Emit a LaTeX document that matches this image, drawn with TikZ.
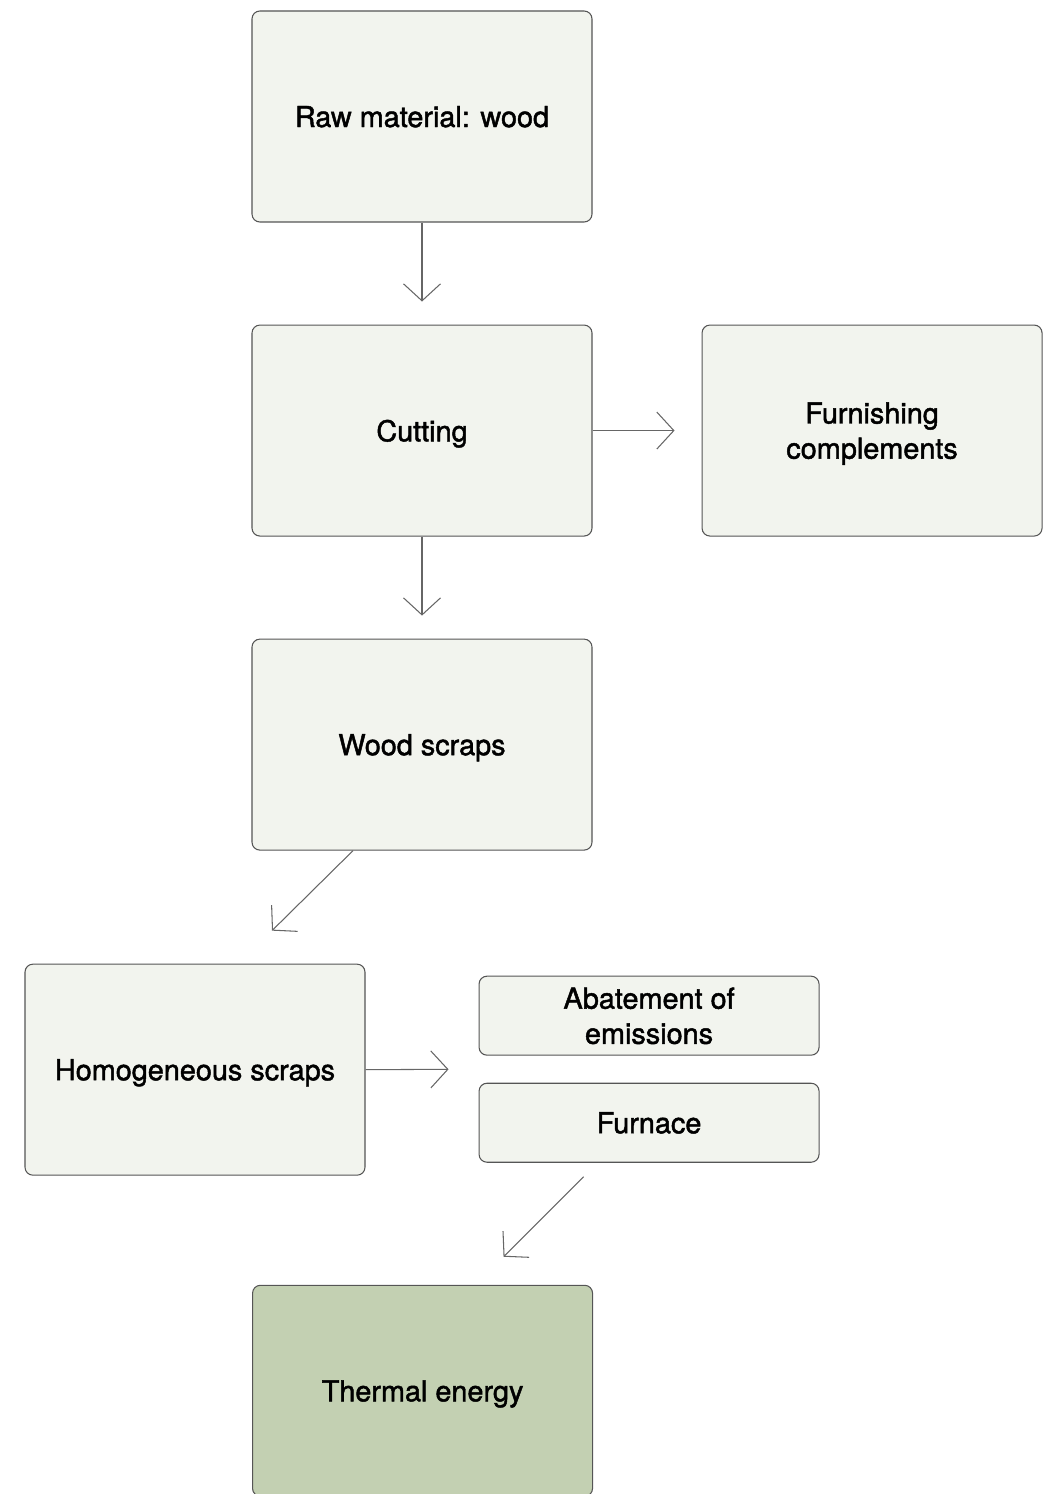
\documentclass[tikz,border=0pt]{standalone}
\usepackage{fontspec}
\setmainfont{TeX Gyre Heros}[FakeBold=1.6]
\usetikzlibrary{positioning,arrows.meta,calc}
\definecolor{boxfill}{HTML}{F2F4EE}
\definecolor{heatfill}{HTML}{C3D0B2}
\definecolor{edge}{HTML}{555555}

\begin{document}
\begin{tikzpicture}[
  box/.style={draw=edge,line width=0.6pt,rounded corners=4.5pt,align=center,fill=boxfill,
    font=\fontsize{16.4}{20}\selectfont,text=black,text depth=0pt,
    minimum width=6.8cm,minimum height=4.22cm,inner sep=6pt},
  slim/.style={box,minimum height=1.58cm},
  flow/.style={-{Straight Barb[length=3.4mm,width=7.4mm]},draw=black!60,line width=0.6pt},
  node distance=2.04cm]
\useasboundingbox (0,0) rectangle (20.98,-29.88);
\node[box] (raw) at (8.44,-2.33) {Raw material: wood};
\node[box,below=of raw] (cut) {Cutting};
\node[box,right=2.18cm of cut] (furnish) {Furnishing\\complements};
\node[box,below=of cut] (wood) {Wood scraps};
\node[box,below=2.26cm of wood,xshift=-4.54cm] (homog) {Homogeneous scraps};
\node[slim,right=2.26cm of homog,yshift=1.08cm] (abate) {Abatement of\\emissions};
\node[slim,below=0.54cm of abate] (furnace) {Furnace};
\node[box,below=2.44cm of furnace,xshift=-4.53cm,fill=heatfill] (heat) {Thermal energy};
% free ends of the slanted arrows
\coordinate (woodout) at ($(wood.south)+(-1.38,0)$);
\coordinate (homogin) at ($(homog.north)+(1.54,0.66)$);
\coordinate (furnout) at ($(furnace.south)+(-1.31,-0.28)$);
\coordinate (heatin) at ($(heat.north)+(1.62,0.56)$);
\draw[flow,shorten >=0.46cm] (raw)--(cut);
\draw[flow,shorten >=0.46cm] (cut)--(wood);
\draw[flow,shorten >=0.54cm] (cut)--(furnish);
\draw[flow] (woodout)--(homogin);
\draw[flow,shorten >=0.6cm] (homog.east)--($(abate.south west)!0.5!(furnace.north west)$);
\draw[flow] (furnout)--(heatin);
\end{tikzpicture}
\end{document}
